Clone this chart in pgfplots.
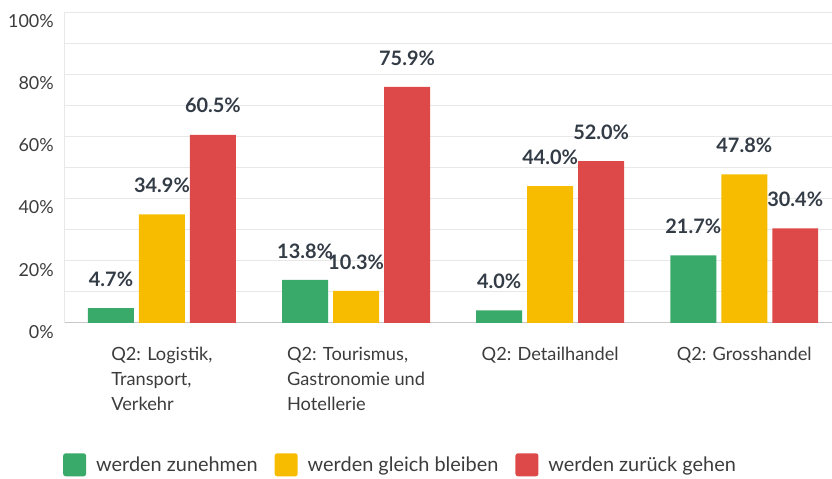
\documentclass[border=0pt]{standalone}
\usepackage{pgfplots}
\pgfplotsset{compat=1.18}
\usepackage{fontspec}
\setmainfont{Lato}
\definecolor{cgreen}{RGB}{58,170,106}
\definecolor{cyellow}{RGB}{247,188,0}
\definecolor{cred}{RGB}{220,73,72}
\definecolor{labc}{RGB}{51,60,70}
\definecolor{tickc}{RGB}{60,60,60}
\definecolor{gridc}{RGB}{232,232,232}
\definecolor{axc}{RGB}{200,200,200}
\pgfplotsset{sqlegend/.style={legend image code/.code={\fill[##1, rounded corners=2.5bp] (0bp,-11.5bp) rectangle (23bp,11.5bp); \path (31bp,0bp);}}}
\begin{document}
\begin{tikzpicture}
\begin{axis}[
  scale only axis, width=768bp, height=311bp,
  ymin=0, ymax=100, xmin=-0.505, xmax=3.45,
  ybar=5bp, bar width=46bp,
  axis x line*=bottom, axis y line*=left,
  x axis line style={-, draw=axc, line width=0.8bp},
  y axis line style={-, draw=gridc, line width=0.8bp},
  ytick={0,20,40,60,80,100}, minor ytick={10,30,50,70,90},
  yticklabels={0\%,20\%,40\%,60\%,80\%,100\%},
  ymajorgrids, yminorgrids,
  major grid style={draw=gridc, line width=0.8bp},
  minor grid style={draw=gridc, line width=0.8bp},
  major tick length=0pt, minor tick length=0pt,
  yticklabel style={font=\fontsize{18}{20}\selectfont, text=tickc, anchor=east, inner sep=0pt, xshift=-10bp, yshift=-9bp},
  xtick={0,1,2,3},
  xticklabels={{Q2: Logistik,\\Transport,\\Verkehr},{Q2: Tourismus,\\Gastronomie und\\Hotellerie},{Q2: Detailhandel},{Q2: Grosshandel}},
  xticklabel style={align=left, font=\fontsize{18.3}{25}\selectfont, text=tickc, inner sep=0pt, anchor=north, yshift=-24bp},
  nodes near coords={\pgfmathprintnumber[fixed,fixed zerofill,precision=1,assume math mode=true]{\pgfplotspointmeta}\%},
  every node near coord/.append style={font=\bfseries\fontsize{20}{22}\selectfont, text=labc, anchor=center, yshift=29bp},
  legend columns=3,
  legend style={draw=none, fill=none, inner sep=0pt, font=\fontsize{20}{22}\selectfont, text=tickc,
    at={(axis description cs:-0.0013,-0.4566)}, anchor=west,
    /tikz/every even column/.append style={column sep=15bp}},
  clip=false,
]
\addplot[fill=cgreen, draw=none, sqlegend] coordinates {(0,4.7) (1,13.8) (2,4.0) (3,21.7)};
\addlegendentry{werden zunehmen}
\addplot[fill=cyellow, draw=none, sqlegend] coordinates {(0,34.9) (1,10.3) (2,44.0) (3,47.8)};
\addlegendentry{werden gleich bleiben}
\addplot[fill=cred, draw=none, sqlegend] coordinates {(0,60.5) (1,75.9) (2,52.0) (3,30.4)};
\addlegendentry{werden zurück gehen}
\path[draw=none] (axis description cs:-0.0833,-0.5016) rectangle (axis description cs:1,1.0386);
\end{axis}
\end{tikzpicture}
\end{document}
